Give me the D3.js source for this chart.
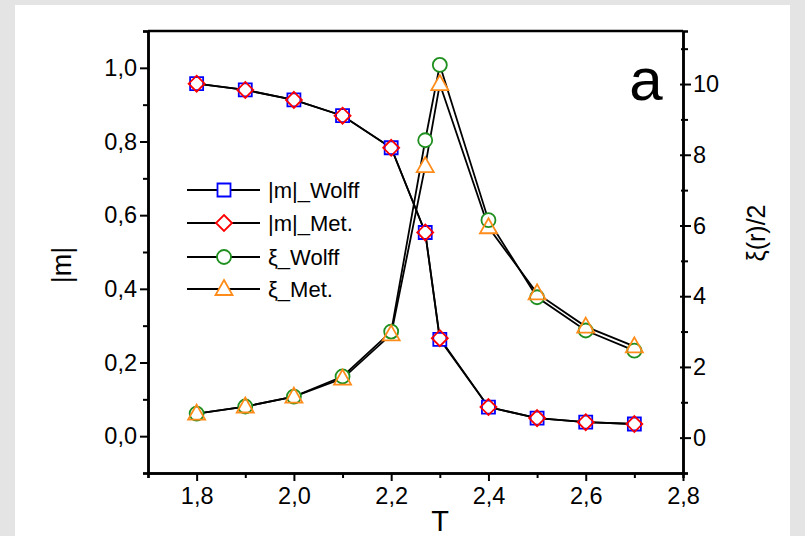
<!DOCTYPE html>
<html>
<head>
<meta charset="utf-8">
<script src="https://cdn.jsdelivr.net/npm/d3@7"></script>
<style>
  html, body { margin: 0; padding: 0; background: #e4e4e4; }
  svg { display: block; }
</style>
</head>
<body>
<svg id="chart" width="805" height="536"></svg>
<script>
// Temperatures at which both algorithms were sampled
const temps = [1.8, 1.9, 2.0, 2.1, 2.2, 2.27, 2.3, 2.4, 2.5, 2.6, 2.7];

// Magnetisation |m| (left axis)
const mWolff = [0.957, 0.940, 0.913, 0.870, 0.783, 0.553, 0.263, 0.079, 0.049, 0.038, 0.033];
const mMet   = [0.957, 0.940, 0.913, 0.870, 0.783, 0.553, 0.266, 0.079, 0.049, 0.038, 0.033];

// Correlation length xi(r)/2 (right axis)
const xiWolff = [0.68, 0.88, 1.16, 1.73, 3.00, 8.41, 10.54, 6.15, 3.97, 3.03, 2.46];
const xiMet   = [0.68, 0.88, 1.16, 1.67, 2.92, 7.68, 10.00, 5.95, 4.08, 3.14, 2.58];

// Tick values
const xMajor = [1.8, 2.0, 2.2, 2.4, 2.6, 2.8];
const xMinor = [1.7, 1.9, 2.1, 2.3, 2.5, 2.7];
const yLMajor = [0.0, 0.2, 0.4, 0.6, 0.8, 1.0];
const yLMinor = [-0.1, 0.1, 0.3, 0.5, 0.7, 0.9, 1.1];
const yRMajor = [0, 2, 4, 6, 8, 10];
const yRMinor = [-1, 1, 3, 5, 7, 9, 11];

const seriesNames = ["|m|_Wolff", "|m|_Met.", "\u03BE_Wolff", "\u03BE_Met."];

const svg = d3.select("#chart");
const FONT = "'Liberation Sans', Arial, sans-serif";

// page backdrop
svg.append("rect").attr("x", 15).attr("y", 5).attr("width", 775).attr("height", 531).attr("fill", "#fff");

const L = 148, R = 683, T = 31, B = 473;
const x = d3.scaleLinear().domain([1.7, 2.8]).range([L, R]);
const yL = d3.scaleLinear().domain([-0.1, 1.1]).range([B, T]);
const yR = d3.scaleLinear().domain([-1, 11.5]).range([B, T]);

const comma = f => v => d3.format(f)(v).replace(".", ",");

// ---- axes ----
function styleAxis(g) {
  g.selectAll("path.domain").attr("stroke", "#000").attr("stroke-width", 2.5);
  g.selectAll(".tick line").attr("stroke", "#000").attr("stroke-width", 2);
  g.selectAll(".tick text").attr("font-family", FONT).attr("font-size", 23.5).attr("fill", "#000");
}

// bottom
const gxMinor = svg.append("g").attr("transform", `translate(0,${B})`)
  .call(d3.axisBottom(x).tickValues(xMinor).tickSize(5).tickFormat(""));
styleAxis(gxMinor);
const gx = svg.append("g").attr("transform", `translate(0,${B})`)
  .call(d3.axisBottom(x).tickValues(xMajor).tickSize(8).tickSizeOuter(0).tickPadding(6).tickFormat(comma(".1f")));
styleAxis(gx);

// left
const gyLMinor = svg.append("g").attr("transform", `translate(${L},0)`)
  .call(d3.axisLeft(yL).tickValues(yLMinor).tickSize(5).tickFormat(""));
styleAxis(gyLMinor);
const gyL = svg.append("g").attr("transform", `translate(${L},0)`)
  .call(d3.axisLeft(yL).tickValues(yLMajor).tickSize(8).tickSizeOuter(0).tickPadding(3).tickFormat(comma(".1f")));
styleAxis(gyL);

// right
const gyRMinor = svg.append("g").attr("transform", `translate(${R},0)`)
  .call(d3.axisRight(yR).tickValues(yRMinor).tickSize(5).tickFormat(""));
styleAxis(gyRMinor);
const gyR = svg.append("g").attr("transform", `translate(${R},0)`)
  .call(d3.axisRight(yR).tickValues(yRMajor).tickSize(8).tickSizeOuter(0).tickPadding(2).tickFormat(d3.format("d")));
styleAxis(gyR);
gyR.selectAll(".tick line").attr("x1", -3);
gyRMinor.selectAll(".tick line").attr("x1", -2);

// top frame line
svg.append("line").attr("x1", L).attr("x2", R).attr("y1", T).attr("y2", T)
  .attr("stroke", "#000").attr("stroke-width", 2.5);

// ---- series ----
const series = [
  { name: seriesNames[0], vals: mWolff, y: yL, shape: "square",   color: "#0000ff" },
  { name: seriesNames[1], vals: mMet,   y: yL, shape: "diamond",  color: "#ff0000" },
  { name: seriesNames[2], vals: xiWolff, y: yR, shape: "circle",  color: "#1f8f1f" },
  { name: seriesNames[3], vals: xiMet,  y: yR, shape: "triangle", color: "#ff8c1a" }
];

function markerPath(shape) {
  switch (shape) {
    case "square":   return "M-6.5,-6.5H6.5V6.5H-6.5Z";
    case "diamond":  return "M0,-8L8,0L0,8L-8,0Z";
    case "circle":   return d3.arc()({ innerRadius: 0, outerRadius: 7, startAngle: 0, endAngle: 2 * Math.PI });
    case "triangle": return "M0,-9L8.5,6L-8.5,6Z";
  }
}

const line = d3.line();
const lines = svg.append("g");
series.forEach(s => {
  lines.append("path")
    .attr("d", line(temps.map((t, i) => [x(t), s.y(s.vals[i])])))
    .attr("fill", "none").attr("stroke", "#000").attr("stroke-width", 1.8);
});

// white knock-out under markers so lines stop at marker edges
const knock = svg.append("g");
const marks = svg.append("g");
series.forEach(s => {
  temps.forEach((t, i) => {
    const tr = `translate(${x(t)},${s.y(s.vals[i])})`;
    knock.append("path").attr("d", markerPath(s.shape)).attr("transform", tr).attr("fill", "#fff");
    marks.append("path").attr("d", markerPath(s.shape)).attr("transform", tr)
      .attr("fill", "none").attr("stroke", s.color).attr("stroke-width", 1.8);
  });
});

// ---- legend ----
const legend = svg.append("g");
const legRows = [190, 223, 257, 289];
series.forEach((s, i) => {
  const yy = legRows[i];
  legend.append("line").attr("x1", 187).attr("x2", 260).attr("y1", yy).attr("y2", yy)
    .attr("stroke", "#000").attr("stroke-width", 2);
  legend.append("path").attr("d", markerPath(s.shape)).attr("transform", `translate(224,${yy})`)
    .attr("fill", "#fff").attr("stroke", s.color).attr("stroke-width", 1.8);
  legend.append("text").attr("x", 268).attr("y", yy).attr("dy", "0.36em")
    .attr("font-family", FONT).attr("font-size", 22).attr("fill", "#000").text(s.name);
});

// ---- titles ----
svg.append("text").attr("transform", "translate(71,265) rotate(-90)")
  .attr("text-anchor", "middle").attr("font-family", FONT).attr("font-size", 27).text("|m|");
svg.append("text").attr("transform", "translate(765,233) rotate(-90)")
  .attr("text-anchor", "middle").attr("font-family", FONT).attr("font-size", 25).text("\u03BE(r)/2");
svg.append("text").attr("x", 440).attr("y", 531).attr("text-anchor", "middle")
  .attr("font-family", FONT).attr("font-size", 29).text("T");
svg.append("text").attr("x", 646).attr("y", 100).attr("text-anchor", "middle")
  .attr("font-family", FONT).attr("font-size", 60).text("a");
svg.append("text").attr("x", 358).attr("y", 555).attr("text-anchor", "middle")
  .attr("font-family", FONT).attr("font-size", 26).text("M");
</script>
</body>
</html>
